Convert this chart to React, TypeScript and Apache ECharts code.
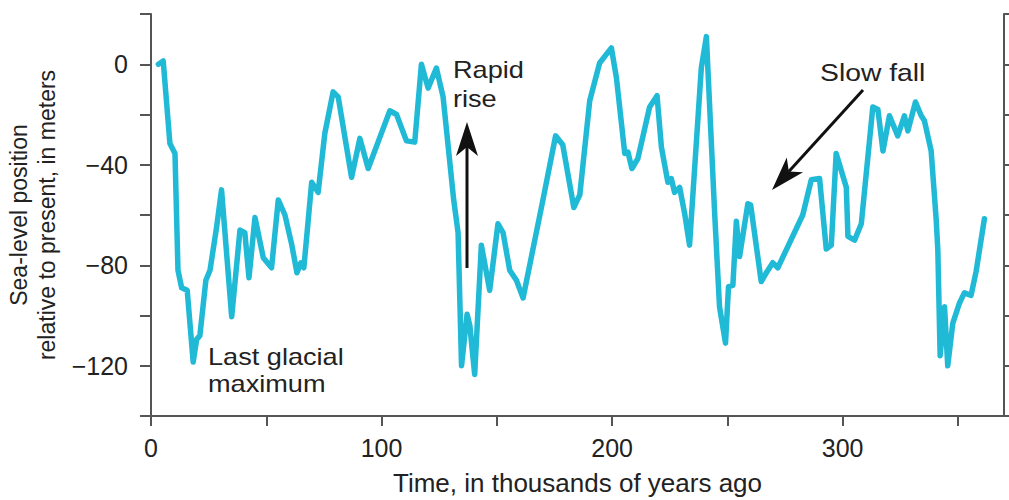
import React, { useEffect, useRef } from "react";
import * as echarts from "echarts";

// Age in thousands of years ago
const ages: number[] = [
  3.2, 5.3, 8.2, 10.4, 11.7, 13.3, 15.7, 18.3, 19.8, 21.2, 23.8, 25.6, 28.5, 30.6,
  35, 38.6, 40.7, 42.5, 45.1, 48.7, 52.3, 55.2, 58.1, 61.1, 63.3, 65, 66.3, 69.7,
  72.5, 75.4, 79, 81.2, 87, 90.6, 94.2, 99.3, 103.6, 106.5, 110.8, 114.4, 117.3,
  120.2, 123.8, 126.7, 131.3, 133.2, 134.7, 137.1, 138.3, 140.4, 143.3, 146.9,
  150.5, 152.7, 155.6, 158.5, 161.4, 170, 175.5, 178.6, 183.4, 186, 190.3, 194.6,
  199.7, 201.9, 205.5, 206.9, 208.6, 211.2, 216.3, 219.5, 221.4, 224.2, 225.7,
  227.1, 229.3, 231.5, 233.6, 238.7, 240.9, 244.5, 246.6, 249.2, 250.5, 252.4,
  253.9, 255.3, 258.9, 260.1, 264.7, 266.9, 269.7, 271.9, 282.7, 286.4, 290,
  292.9, 295.1, 297.2, 301.6, 302.3, 305.2, 308.1, 313.1, 315.3, 317.5, 320.3,
  323.9, 326.8, 328.3, 331.6, 334.1, 335.5, 338.4, 340.6, 341.3, 342.3, 344.2,
  345.6, 347.8, 350.7, 352.8, 355.7, 357.9, 361.5,
];

// Sea-level position relative to present, meters
const levels: number[] = [
  0, 1.3, -31.5, -35.5, -82, -89, -90, -118.5, -109.5, -108, -86, -82, -64.5, -50,
  -100.5, -66, -67, -85, -61, -77, -81, -54, -60, -72, -83, -79, -81, -47,
  -51, -27.5, -11, -13, -45, -29.5, -41.5, -29, -18.5, -20, -30.5, -31, 0,
  -9.5, -1.5, -13, -54, -67, -120, -99.5, -104, -123.5, -72, -90,
  -63.5, -67, -82, -86, -93, -54, -28.5, -32, -57, -52, -14.5, 0.5,
  6.5, -5.5, -35.5, -35, -41.5, -37.5, -17, -12.5, -33, -47, -45.5,
  -51, -49, -59.5, -72, -1.5, 11, -59.5, -96.5, -111, -88.5, -88,
  -62.5, -76.5, -55.5, -56, -86.5, -83, -79, -81, -60, -46, -45.5,
  -73.5, -72, -35.5, -49, -68.5, -70, -63.5, -17, -18, -34.5, -20.5,
  -28.5, -20.5, -26.5, -15, -20.5, -22.5, -34.5, -62, -74, -116, -96.5,
  -120, -103, -95, -91, -92, -82.5, -61.5,
];

const xLabelValues: number[] = [0, 100, 200, 300];
const yLabelValues: number[] = [0, -40, -80, -120];

const TEXT = "#222222";
const AXIS = "#555555";
const LINE = "#20b9d6";
const FONT = "'Liberation Sans', Arial, Helvetica, sans-serif";

function arrow(x1: number, y1: number, x2: number, y2: number) {
  const dx = x2 - x1;
  const dy = y2 - y1;
  const len = Math.sqrt(dx * dx + dy * dy);
  const ux = dx / len;
  const uy = dy / len;
  const nx = -uy;
  const ny = ux;
  const L = 34;
  const W = 11;
  const notch = 25;
  const bx = x2 - L * ux;
  const by = y2 - L * uy;
  return [
    {
      type: "line",
      shape: { x1, y1, x2: x2 - notch * ux, y2: y2 - notch * uy },
      style: { stroke: "#111", lineWidth: 3 },
      silent: true,
    },
    {
      type: "polygon",
      shape: {
        points: [
          [x2, y2],
          [bx + W * nx, by + W * ny],
          [x2 - notch * ux, y2 - notch * uy],
          [bx - W * nx, by - W * ny],
        ],
      },
      style: { fill: "#111" },
      silent: true,
    },
  ];
}

function label(text: string, x: number, y: number, size: number) {
  return {
    type: "text",
    x,
    y,
    scaleX: 1.18,
    silent: true,
    style: { text, x: 0, y: 0, verticalAlign: "top", align: "left", fill: TEXT, fontSize: size, fontFamily: FONT },
  };
}

export default function App() {
  const ref = useRef<HTMLDivElement>(null);
  useEffect(() => {
    document.body.style.margin = "0";
    if (!ref.current) return;
    const chart = echarts.init(ref.current, undefined, { renderer: "svg" });
    const data = ages.map((a, i) => [a, levels[i]]);
    chart.setOption({
      animation: false,
      backgroundColor: "#ffffff",
      grid: { left: 151, right: 5, top: 14, bottom: 84, containLabel: false, outerBoundsMode: "none" },
      xAxis: {
        type: "value",
        min: 0,
        max: 370,
        interval: 50,
        name: "Time, in thousands of years ago",
        nameLocation: "middle",
        nameGap: 54,
        nameTextStyle: { color: TEXT, fontSize: 26, fontFamily: FONT },
        axisLine: { show: true, onZero: false, lineStyle: { color: AXIS, width: 2 } },
        axisTick: { show: true, length: 10, lineStyle: { color: AXIS, width: 2 } },
        axisLabel: {
          color: TEXT,
          fontSize: 25,
          fontFamily: FONT,
          margin: 19,
          showMaxLabel: false,
          formatter: (v: number) => (xLabelValues.indexOf(v) >= 0 ? String(v) : ""),
        },
        splitLine: { show: false },
      },
      yAxis: [
        {
          type: "value",
          min: -140,
          max: 20,
          interval: 20,
          position: "left",
          name: "Sea-level position\nrelative to present, in meters",
          nameLocation: "middle",
          nameRotate: 90,
          nameGap: 88,
          nameTextStyle: { color: TEXT, fontSize: 23, fontFamily: FONT, lineHeight: 28 },
          axisLine: { show: true, onZero: false, lineStyle: { color: AXIS, width: 2 } },
          axisTick: { show: true, length: 11, lineStyle: { color: AXIS, width: 2 } },
          axisLabel: {
            color: TEXT,
            fontSize: 25,
            fontFamily: FONT,
            margin: 23,
            formatter: (v: number) =>
              yLabelValues.indexOf(v) >= 0 ? (v < 0 ? "\u2212" + Math.abs(v) : String(v)) : "",
          },
          splitLine: { show: false },
        },
        {
          type: "value",
          min: -140,
          max: 20,
          interval: 20,
          position: "right",
          axisLine: { show: true, onZero: false, lineStyle: { color: AXIS, width: 2 } },
          axisTick: { show: true, inside: false, length: 5, lineStyle: { color: AXIS, width: 2 } },
          axisLabel: { show: false },
          splitLine: { show: false },
        },
      ],
      series: [
        {
          type: "line",
          data,
          yAxisIndex: 0,
          showSymbol: false,
          symbol: "none",
          smooth: false,
          lineStyle: { color: LINE, width: 5.5, join: "round", cap: "round" },
          clip: false,
        },
      ],
      graphic: [
        label("Rapid", 453, 58, 23),
        label("rise", 453, 87, 23),
        label("Slow fall", 820, 61, 24),
        label("Last glacial", 208, 345, 23),
        label("maximum", 208, 372, 23),
        ...arrow(467, 268, 467, 122),
        ...arrow(863, 90, 772, 190),
      ],
    });
    return () => chart.dispose();
  }, []);
  return <div ref={ref} style={{ width: 1009, height: 500 }} />;
}
